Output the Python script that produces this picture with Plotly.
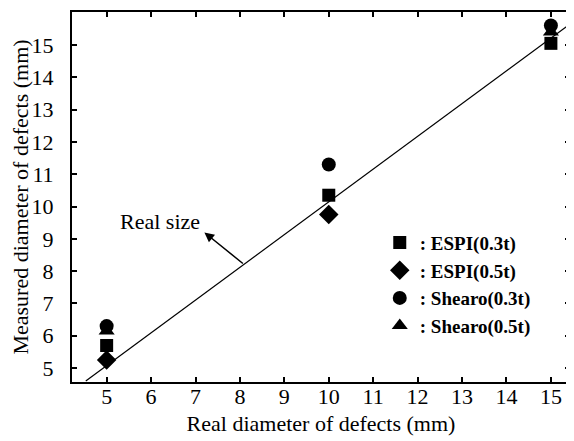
import plotly.graph_objects as go

real = [5, 10, 15]
espi_03 = [5.7, 10.35, 15.05]
espi_05 = [5.25, 9.75, None]
shearo_03 = [6.3, 11.3, 15.6]
shearo_05 = [6.15, None, 15.4]
ref_line_x = [4.53, 15.43]
ref_line_y = [4.6, 15.65]

x_ticks = list(range(5, 16))
y_ticks = list(range(5, 16))

FONT = "Liberation Serif, Times New Roman, DejaVu Serif, serif"

fig = go.Figure()
fig.add_trace(go.Scatter(x=ref_line_x, y=ref_line_y, mode="lines",
                         line=dict(color="black", width=1.2), showlegend=False, hoverinfo="skip"))
series = [
    (": ESPI(0.3t)", espi_03, "square", 13),
    (": ESPI(0.5t)", espi_05, "diamond", 15),
    (": Shearo(0.3t)", shearo_03, "circle", 14),
    (": Shearo(0.5t)", shearo_05, "triangle-up", 14),
]
for name, ys, sym, sz in series:
    fig.add_trace(go.Scatter(x=real, y=ys, mode="markers", name=name,
                             marker=dict(symbol=sym, size=sz, color="black")))

fig.add_annotation(x=7.2, y=9.2, ax=8.1, ay=8.2, xref="x", yref="y", axref="x", ayref="y",
                   text="", showarrow=True, arrowhead=2, arrowsize=1.3, arrowwidth=1.5,
                   arrowcolor="black")
fig.add_annotation(x=6.2, y=9.55, xref="x", yref="y", text="Real size", showarrow=False,
                   font=dict(family=FONT, size=22, color="black"))

axis_common = dict(showline=True, linecolor="black", linewidth=2, mirror="ticks",
                   ticks="inside", ticklen=5, tickcolor="black", tickwidth=1.5,
                   showgrid=False, zeroline=False,
                   tickfont=dict(family=FONT, size=22, color="black"))
fig.update_xaxes(range=[4.22, 15.43], tickvals=x_ticks, ticktext=[str(v) for v in x_ticks],
                 title=dict(text="Real diameter of defects (mm)", standoff=7,
                            font=dict(family=FONT, size=22, color="black")),
                 ticklabelstandoff=-6, **axis_common)
fig.update_yaxes(range=[4.57, 16.02], tickvals=y_ticks, ticktext=[str(v) for v in y_ticks],
                 title=dict(text="Measured diameter of defects (mm)", standoff=3,
                            font=dict(family=FONT, size=22, color="black")),
                 ticklabelstandoff=12, **axis_common)

fig.update_layout(
    width=566, height=433,
    margin=dict(l=64, r=2, t=3, b=59),
    paper_bgcolor="white", plot_bgcolor="white",
    legend=dict(x=0.618, y=0.428, xanchor="left", yanchor="top",
                font=dict(family=FONT, size=19, color="black", weight="bold"),
                bgcolor="rgba(0,0,0,0)", itemwidth=30, tracegroupgap=0),
)
fig.write_html("out.html")
